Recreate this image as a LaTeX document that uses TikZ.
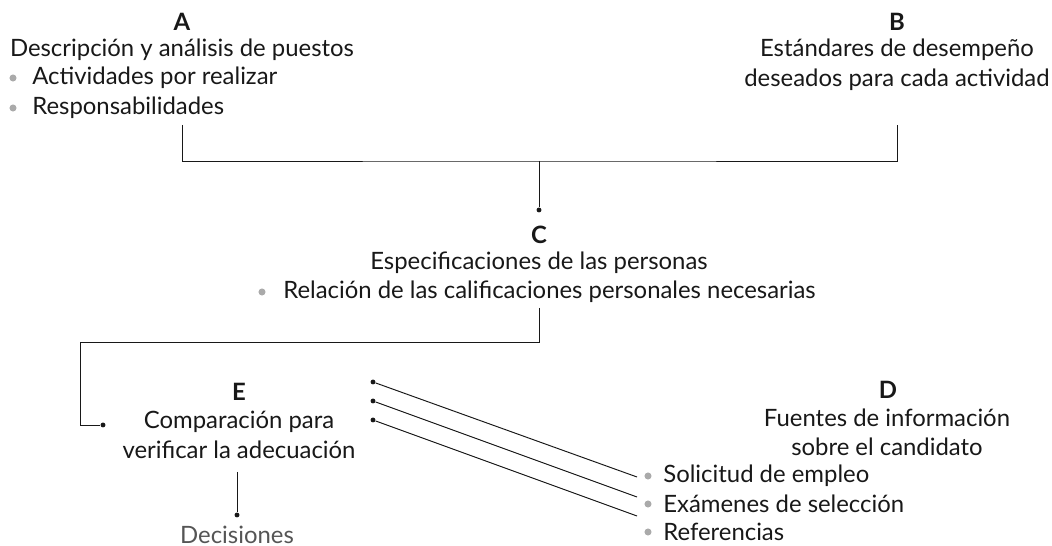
\documentclass[tikz,border=0pt]{standalone}
\usepackage{fontspec}
\setmainfont{Lato}
\usetikzlibrary{positioning}
\definecolor{ink}{RGB}{24,24,24}
\definecolor{bulletgray}{RGB}{170,170,170}
\definecolor{fadedgray}{RGB}{85,85,85}

\tikzset{
  txt/.style={inner sep=0pt, text=ink, font=\fontsize{13.6}{16}\selectfont},
  letter/.style={txt, font=\fontsize{13.6}{16}\selectfont\bfseries},
  bul/.style={circle, fill=bulletgray, inner sep=0pt, minimum size=4pt},
  dot/.style={circle, fill=ink, inner sep=0pt, minimum size=2.8pt},
  wire/.style={draw=ink, line width=0.55pt},
}

\begin{document}
\begin{tikzpicture}[x=0.02cm,y=-0.02cm]
\useasboundingbox (0,0) rectangle (1052,546);

% column centres
\def\xA{182}
\def\xB{897}
\def\xC{539}
\def\xE{239}
\def\xD{887}

% Block A
\node[letter] (Aletter) at (\xA,22) {A};
\node[txt] (Atitle) at (\xA,50) {Descripción y análisis de puestos};
\node[bul] (Ab1) at (13,78) {};
\node[txt,anchor=west] (Aitem1) at (32,78) {Actividades por realizar};
\node[bul] (Ab2) at (13,108) {};
\node[txt,anchor=west] (Aitem2) at (32,108) {Responsabilidades};

% Block B
\node[letter] (Bletter) at (\xB,22) {B};
\node[txt] (Btitle) at (\xB,50) {Estándares de desempeño};
\node[txt] (Btitle2) at (\xB,80) {deseados para cada actividad};

% Block C
\node[letter] (Cletter) at (\xC,235) {C};
\node[txt] (Ctitle) at (\xC,263) {Especificaciones de las personas};
\node[bul] (Cb1) at (262,292) {};
\node[txt,anchor=west] (Citem1) at (283,292) {Relación de las calificaciones personales necesarias};

% Block E
\node[letter] (Eletter) at (\xE,392) {E};
\node[txt] (Etitle) at (\xE,422) {Comparación para};
\node[txt] (Etitle2) at (\xE,450) {verificar la adecuación};
\node[txt,text=fadedgray] (Decis) at (237,535) {Decisiones};

% Block D
\node[letter] (Dletter) at (888,390) {D};
\node[txt] (Dtitle) at (\xD,418) {Fuentes de información};
\node[txt] (Dtitle2) at (\xD,447) {sobre el candidato};
\node[bul] (Db1) at (648,476) {};
\node[txt,anchor=west] (Ditem1) at (663,476) {Solicitud de empleo};
\node[bul] (Db2) at (648,504) {};
\node[txt,anchor=west] (Ditem2) at (663,504) {Exámenes de selección};
\node[bul] (Db3) at (648,532) {};
\node[txt,anchor=west] (Ditem3) at (663,532) {Referencias};

% Add A and B into C
\coordinate (Aend) at (\xA,125);
\coordinate (Bend) at (\xB,125);
\coordinate (joinAB) at (\xC,161);
\node[dot] (Cin) at (\xC,210) {};
\draw[wire] (Aend) |- (joinAB) -| (Bend);
\draw[wire] (joinAB) -- (Cin);

% Add C into E
\coordinate (Cout) at (\xC,308);
\coordinate (turnC) at (80,342);
\node[dot] (Ein) at (103,425) {};
\draw[wire] (Cout) |- (turnC) |- (Ein);

% Add D into E
\node[dot] (Ein1) at (373,382) {};
\node[dot] (Ein2) at (373,401) {};
\node[dot] (Ein3) at (373,420) {};
\coordinate (Dout1) at (637,477);
\coordinate (Dout2) at (637,497);
\coordinate (Dout3) at (637,516);
\draw[wire] (Ein1) -- (Dout1);
\draw[wire] (Ein2) -- (Dout2);
\draw[wire] (Ein3) -- (Dout3);

% Add E into decisions
\coordinate (Eout) at (237,472);
\node[dot] (Dcin) at (237,515) {};
\draw[wire] (Eout) -- (Dcin);

\end{tikzpicture}
\end{document}
